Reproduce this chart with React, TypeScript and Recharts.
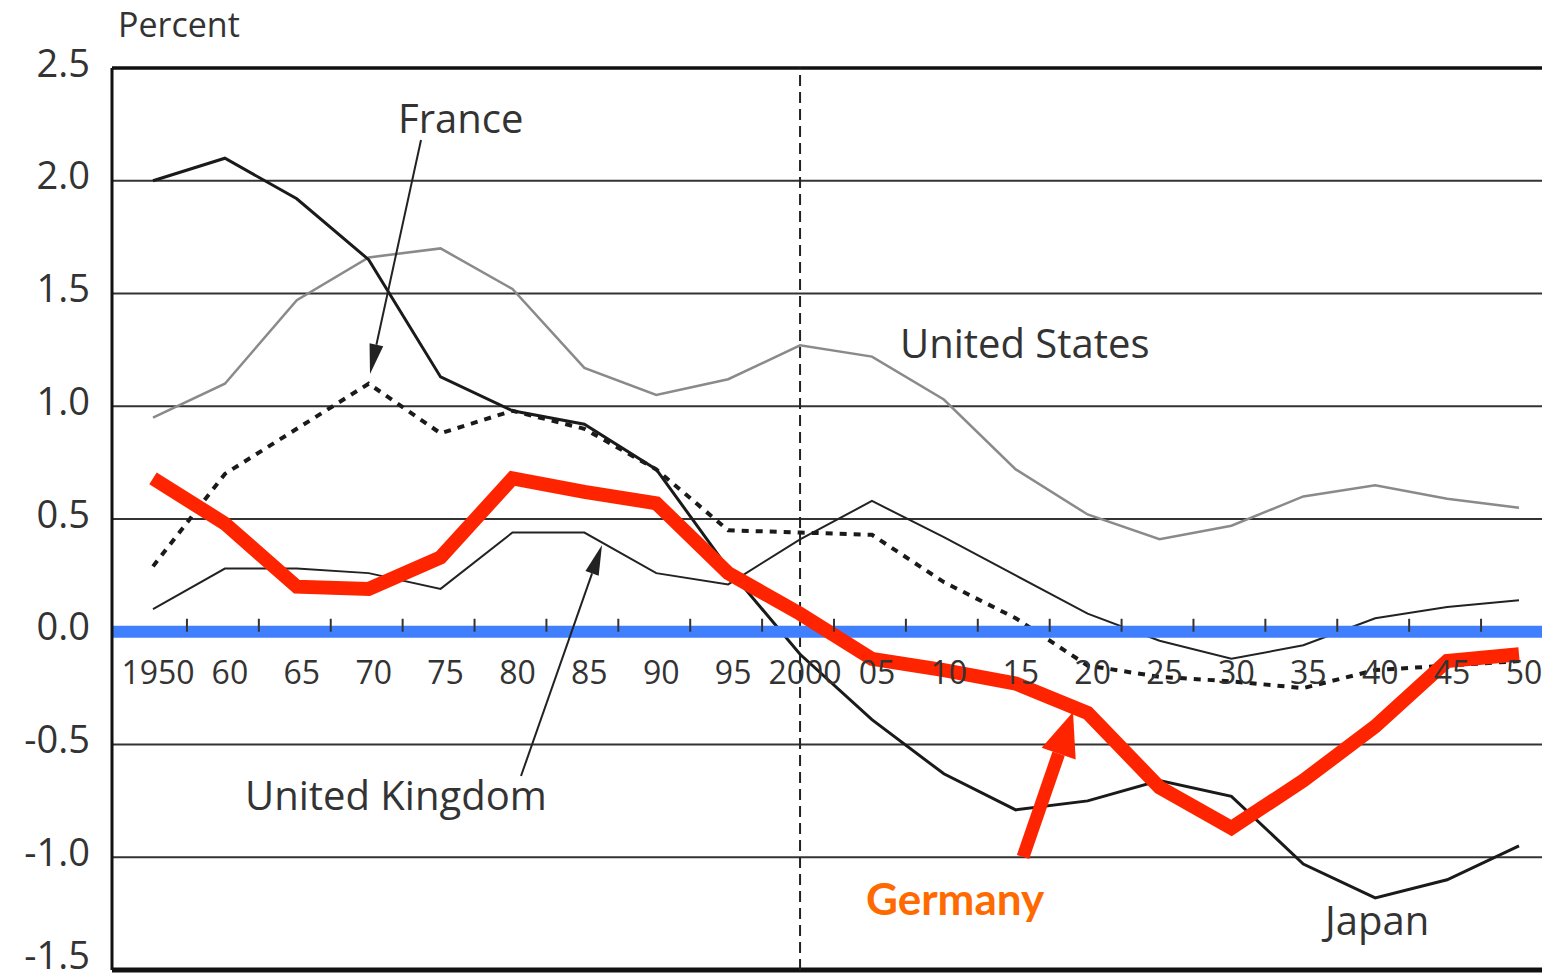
import { CartesianGrid, Line, LineChart, ReferenceLine, XAxis, YAxis } from "recharts"

// category labels as printed under the zero line
const YEARS = ["1950", "60", "65", "70", "75", "80", "85", "90", "95", "2000", "05", "10", "15", "20", "25", "30", "35", "40", "45", "50"]

const JAPAN = [2.0, 2.1, 1.92, 1.65, 1.13, 0.98, 0.92, 0.72, 0.28, -0.1, -0.39, -0.63, -0.79, -0.75, -0.66, -0.73, -1.03, -1.18, -1.1, -0.95]
const US = [0.95, 1.1, 1.47, 1.66, 1.7, 1.52, 1.17, 1.05, 1.12, 1.27, 1.22, 1.03, 0.72, 0.52, 0.41, 0.47, 0.6, 0.65, 0.59, 0.55]
const UK = [0.1, 0.28, 0.28, 0.26, 0.19, 0.44, 0.44, 0.26, 0.21, 0.41, 0.58, 0.42, 0.25, 0.08, -0.04, -0.12, -0.06, 0.06, 0.11, 0.14]
const FRANCE = [0.29, 0.7, 0.9, 1.1, 0.88, 0.98, 0.9, 0.72, 0.45, 0.44, 0.43, 0.22, 0.06, -0.15, -0.2, -0.22, -0.25, -0.17, -0.15, -0.13]
const GERMANY = [0.68, 0.48, 0.2, 0.19, 0.33, 0.68, 0.62, 0.57, 0.26, 0.08, -0.12, -0.17, -0.23, -0.36, -0.69, -0.87, -0.66, -0.42, -0.13, -0.1]

const Y_TICKS = [2.5, 2.0, 1.5, 1.0, 0.5, 0.0, -0.5, -1.0, -1.5]
const Y_MIN = -1.5
const Y_MAX = 2.5

const FONT = "'Open Sans', 'Noto Sans', sans-serif"
const INK = "#333"
const RED = "#ff2400"
const BLUE = "#4080ff"

const W = 1560
const H = 979
const PLOT_LEFT = 112
const PLOT_TOP = 68
const PLOT_BOTTOM = 970
const PAD = 41
const STEP = (W - PLOT_LEFT - 2 * PAD) / (YEARS.length - 1)
const ZERO_Y = PLOT_TOP + (PLOT_BOTTOM - PLOT_TOP) * (Y_MAX / (Y_MAX - Y_MIN))

const rows = YEARS.map((year, i) => ({
  year,
  japan: JAPAN[i],
  us: US[i],
  uk: UK[i],
  france: FRANCE[i],
  germany: GERMANY[i],
}))

// labels sit just under the zero line, tick marks between categories
function YearTick({ x, payload, index }: any) {
  const mx = x + STEP / 2 - 2
  return (
    <g>
      {index < YEARS.length - 1 && (
        <line x1={mx} x2={mx} y1={ZERO_Y} y2={ZERO_Y - 13} stroke={INK} strokeWidth={2} />
      )}
      <text x={x + 5} y={ZERO_Y + 52} textAnchor="middle" fontSize={32} fill={INK} fontFamily={FONT}>
        {payload.value}
      </text>
    </g>
  )
}

// value labels sit a touch above their gridline; the lowest one is kept inside the page
function ValueTick({ x, y, payload }: any) {
  const cy = Math.min(y - 5, H - 24)
  return (
    <text x={x} y={cy} dy="0.36em" textAnchor="end" fontSize={38} fill={INK} fontFamily={FONT}>
      {Number(payload.value).toFixed(1)}
    </text>
  )
}

function head(x1: number, y1: number, x2: number, y2: number, len: number, half: number) {
  const d = Math.hypot(x2 - x1, y2 - y1)
  const ux = (x2 - x1) / d
  const uy = (y2 - y1) / d
  const bx = x2 - ux * len
  const by = y2 - uy * len
  return {
    base: [bx, by],
    pts: `${x2},${y2} ${bx - uy * half},${by + ux * half} ${bx + uy * half},${by - ux * half}`,
  }
}

function Arrow({ from, to, color, width, len, half }: { from: number[]; to: number[]; color: string; width: number; len: number; half: number }) {
  const h = head(from[0], from[1], to[0], to[1], len, half)
  return (
    <g>
      <line x1={from[0]} y1={from[1]} x2={h.base[0]} y2={h.base[1]} stroke={color} strokeWidth={width} />
      <polygon points={h.pts} fill={color} />
    </g>
  )
}

export default function App() {
  return (
    <div style={{ position: "fixed", left: 0, top: 0, width: 1542, height: H, overflow: "hidden", background: "#fff", fontFamily: FONT }}>
      <LineChart width={W} height={H} data={rows} margin={{ top: PLOT_TOP, right: 0, bottom: H - PLOT_BOTTOM - 1, left: 0 }}>
        <CartesianGrid vertical={false} stroke={INK} strokeWidth={2} />
        <XAxis
          dataKey="year"
          type="category"
          scale="point"
          padding={{ left: PAD, right: PAD }}
          height={1}
          axisLine={false}
          tickLine={false}
          tickSize={0}
          interval={0}
          tick={<YearTick />}
        />
        <YAxis
          domain={[Y_MIN, Y_MAX]}
          ticks={Y_TICKS}
          width={PLOT_LEFT}
          tickSize={0}
          tickMargin={22}
          tickLine={false}
          axisLine={{ stroke: "#111", strokeWidth: 3 }}
          tick={<ValueTick />}
        />
        <ReferenceLine y={Y_MAX} stroke="#111" strokeWidth={3.5} />
        <ReferenceLine y={Y_MIN} stroke="#111" strokeWidth={5} />
        <ReferenceLine x="2000" stroke="#222" strokeWidth={2} strokeDasharray="11 6" />
        <Line dataKey="us" type="linear" stroke="#8a8a8a" strokeWidth={2.5} dot={false} isAnimationActive={false} />
        <Line dataKey="uk" type="linear" stroke="#222" strokeWidth={2} dot={false} isAnimationActive={false} />
        <Line dataKey="france" type="linear" stroke="#1a1a1a" strokeWidth={4} strokeDasharray="7 7" dot={false} isAnimationActive={false} />
        <Line dataKey="japan" type="linear" stroke="#1a1a1a" strokeWidth={3} dot={false} isAnimationActive={false} />
        <ReferenceLine y={0} stroke={BLUE} strokeWidth={12} />
        <Line dataKey="germany" type="linear" stroke={RED} strokeWidth={14} strokeLinejoin="miter" dot={false} isAnimationActive={false} />
      </LineChart>
      <svg width={1542} height={H} style={{ position: "absolute", left: 0, top: 0, pointerEvents: "none" }}>
        <text x={118} y={37} fontSize={34} fill={INK} fontFamily={FONT}>Percent</text>
        <text x={398} y={133} fontSize={40} fill={INK} fontFamily={FONT}>France</text>
        <text x={900} y={358} fontSize={40} fill={INK} fontFamily={FONT}>United States</text>
        <text x={245} y={810} fontSize={40} fill={INK} fontFamily={FONT}>United Kingdom</text>
        <text x={1325} y={935} fontSize={40} fill={INK} fontFamily={FONT}>Japan</text>
        <text x={866} y={915} fontSize={44} fontWeight={700} fill="#ff6a00" fontFamily="Lato, sans-serif">Germany</text>
        <Arrow from={[421, 140]} to={[370, 374]} color="#222" width={2} len={30} half={7} />
        <Arrow from={[521, 776]} to={[602, 545]} color="#222" width={2} len={30} half={7} />
        <Arrow from={[1023, 857]} to={[1073, 712]} color={RED} width={13} len={44} half={18} />
      </svg>
    </div>
  )
}
